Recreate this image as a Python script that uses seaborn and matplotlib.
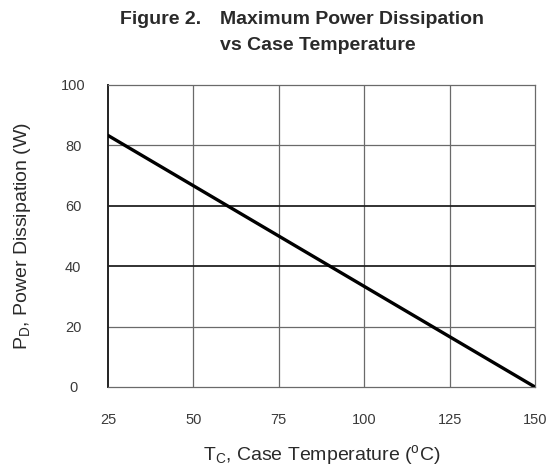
import matplotlib
matplotlib.use("Agg")
import matplotlib.pyplot as plt
import seaborn as sns
import pandas as pd

case_temp = [25, 150]
power_w = [83.3, 0]
x_ticks = [25, 50, 75, 100, 125, 150]
y_ticks = [0, 20, 40, 60, 80, 100]

sns.set_theme(style="white")
plt.rcParams['font.family'] = ['Liberation Sans', 'DejaVu Sans']
plt.rcParams['mathtext.default'] = 'regular'

df = pd.DataFrame({"Tc": case_temp, "Pd": power_w})

fig = plt.figure(figsize=(5.55, 4.70), dpi=100)
ax = fig.add_axes([108/555, 1-387/470, (535-108)/555, (387-85)/470])

sns.lineplot(data=df, x="Tc", y="Pd", ax=ax, color="black", linewidth=2.4, zorder=5)

ax.set_xlim(25, 150)
ax.set_ylim(0, 100)
ax.set_xticks(x_ticks)
ax.set_yticks(y_ticks)
ax.set_xticklabels([str(v) for v in x_ticks])
ax.set_yticklabels([str(v) for v in y_ticks])
for lbl in ax.get_yticklabels():
    lbl.set_horizontalalignment('center')
ax.tick_params(axis='x', length=0, pad=19, labelsize=10.5, labelcolor='#3a3a3a')
ax.tick_params(axis='y', length=0, pad=25, labelsize=10.5, labelcolor='#3a3a3a')

for v in [50, 75, 100, 125]:
    ax.axvline(v, color='#6a6a6a', linewidth=0.9, zorder=1)
for v in [20, 80]:
    ax.axhline(v, color='#6a6a6a', linewidth=0.9, zorder=1)
for v in [40, 60]:
    ax.axhline(v, color='#222222', linewidth=1.3, zorder=1)

for side in ['top', 'right', 'bottom']:
    ax.spines[side].set_color('#6a6a6a')
    ax.spines[side].set_linewidth(0.9)
ax.spines['left'].set_color('#222222')
ax.spines['left'].set_linewidth(1.4)

ax.set_xlabel(r"T$_{C}$, Case Temperature ($^{o}$C)", fontsize=14, color='#2a2a2a', labelpad=11)
ax.set_ylabel(r"P$_{D}$, Power Dissipation (W)", fontsize=14, color='#2a2a2a', labelpad=20)

fig.text(120/555, 1-19/470, "Figure 2.", fontsize=14, fontweight='bold', color='#2a2a2a', ha='left', va='center')
fig.text(220/555, 1-19/470, "Maximum Power Dissipation", fontsize=14, fontweight='bold', color='#2a2a2a', ha='left', va='center')
fig.text(220/555, 1-45/470, "vs Case Temperature", fontsize=14, fontweight='bold', color='#2a2a2a', ha='left', va='center')

fig.savefig("out.png", dpi=100, facecolor='white')
